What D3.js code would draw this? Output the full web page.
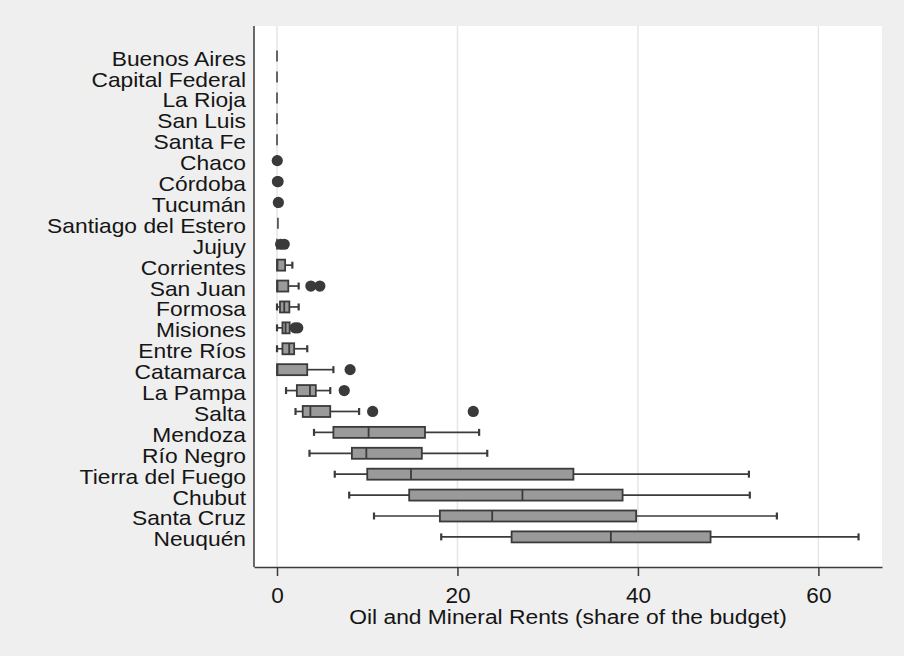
<!DOCTYPE html>
<html>
<head>
<meta charset="utf-8">
<script src="https://cdn.jsdelivr.net/npm/d3@7"></script>
<style>
  body { margin: 0; background: #efefef; }
  svg { display: block; font-family: "Liberation Sans", Arial, sans-serif; }
</style>
</head>
<body>
<svg></svg>
<script>
const provinces = ["Buenos Aires", "Capital Federal", "La Rioja", "San Luis", "Santa Fe", "Chaco",
  "Córdoba", "Tucumán", "Santiago del Estero", "Jujuy", "Corrientes", "San Juan", "Formosa",
  "Misiones", "Entre Ríos", "Catamarca", "La Pampa", "Salta", "Mendoza", "Río Negro",
  "Tierra del Fuego", "Chubut", "Santa Cruz", "Neuquén"]

// box plot summaries (lower whisker, quartiles, upper whisker)
const lowWhisker = [0, 0, 0, 0, 0, 0, 0, 0, 0.1, 0, 0, 0, 0, 0, 0, 0, 1.0, 2.05, 4.1, 3.6, 6.4, 8.0, 10.75, 18.2]
const q1 =         [0, 0, 0, 0, 0, 0, 0, 0, 0.1, 0, 0, 0, 0.33, 0.6, 0.6, 0, 2.2, 2.85, 6.25, 8.3, 10.0, 14.65, 18.05, 26.0]
const medians =    [0, 0, 0, 0, 0, 0, 0, 0, 0.1, 0, 0.05, 0.05, 0.8, 0.95, 1.35, 0.05, 3.65, 3.7, 10.15, 9.9, 14.85, 27.2, 23.85, 37.0]
const q3 =         [0, 0, 0, 0, 0, 0, 0, 0, 0.1, 0, 0.9, 1.25, 1.37, 1.4, 1.9, 3.35, 4.3, 5.9, 16.4, 16.05, 32.85, 38.3, 39.8, 48.05]
const highWhisker =[0, 0, 0, 0, 0, 0, 0, 0, 0.1, 0, 1.7, 2.4, 2.4, 1.4, 3.35, 6.25, 5.9, 9.1, 22.4, 23.3, 52.3, 52.4, 55.4, 64.45]
const outliers = [[], [], [], [], [], [0.03], [0.05, 0.12], [0.15], [], [0.4, 0.8], [], [3.75, 4.75],
  [], [2.0, 2.3], [], [8.1], [7.45], [10.6, 21.75], [], [], [], [], [], []]

const xTicks = [0, 20, 40, 60]
const xTitle = "Oil and Mineral Rents (share of the budget)"

const width = 904, height = 656
const plot = {left: 254, right: 882, top: 26, bottom: 567}

const svg = d3.select("svg")
  .attr("width", width)
  .attr("height", height)

svg.append("rect")
  .attr("width", width)
  .attr("height", height)
  .attr("fill", "#efefef")

svg.append("rect")
  .attr("x", plot.left)
  .attr("y", plot.top)
  .attr("width", plot.right - plot.left)
  .attr("height", plot.bottom - plot.top)
  .attr("fill", "#fff")

const x = d3.scaleLinear().domain([-2.55, 67.05]).range([plot.left, plot.right])
const y = d3.scalePoint().domain(provinces).range([plot.top, plot.bottom]).padding(1.44)

// grid
svg.selectAll("line.grid")
  .data(xTicks)
  .join("line")
  .attr("class", "grid")
  .attr("x1", d => x(d)).attr("x2", d => x(d))
  .attr("y1", plot.top).attr("y2", plot.bottom)
  .attr("stroke", "#e6e6e6")
  .attr("stroke-width", 1.5)

const rows = provinces.map((p, i) => ({
  name: p, lo: lowWhisker[i], q1: q1[i], med: medians[i], q3: q3[i], hi: highWhisker[i], out: outliers[i]
}))

const boxH = 11, capH = 7
const dark = "#3b3b3b"

const g = svg.selectAll("g.row")
  .data(rows)
  .join("g")
  .attr("class", "row")
  .attr("transform", d => `translate(0,${y(d.name)})`)

// whiskers
g.filter(d => d.lo < d.q1).append("line")
  .attr("x1", d => x(d.lo)).attr("x2", d => x(d.q1))
  .attr("stroke", dark).attr("stroke-width", 1.7)
g.filter(d => d.hi > d.q3).append("line")
  .attr("x1", d => x(d.q3)).attr("x2", d => x(d.hi))
  .attr("stroke", dark).attr("stroke-width", 1.7)
g.filter(d => d.lo < d.q1).append("line")
  .attr("x1", d => x(d.lo)).attr("x2", d => x(d.lo))
  .attr("y1", -capH / 2).attr("y2", capH / 2)
  .attr("stroke", dark).attr("stroke-width", 2.2)
g.filter(d => d.hi > d.q3).append("line")
  .attr("x1", d => x(d.hi)).attr("x2", d => x(d.hi))
  .attr("y1", -capH / 2).attr("y2", capH / 2)
  .attr("stroke", dark).attr("stroke-width", 2.2)

// boxes
g.filter(d => d.q3 > d.q1).append("rect")
  .attr("x", d => x(d.q1))
  .attr("y", -boxH / 2)
  .attr("width", d => x(d.q3) - x(d.q1))
  .attr("height", boxH)
  .attr("fill", "#9a9a9a")
  .attr("stroke", dark)
  .attr("stroke-width", 1.8)

// median
g.append("line")
  .attr("x1", d => x(d.med)).attr("x2", d => x(d.med))
  .attr("y1", -boxH / 2).attr("y2", boxH / 2)
  .attr("stroke", d => d.q3 > d.q1 ? dark : "#555")
  .attr("stroke-width", 1.8)

// outside values
g.selectAll("circle")
  .data(d => d.out)
  .join("circle")
  .attr("cx", d => x(d))
  .attr("r", 5.6)
  .attr("fill", "#3a3a3a")

// axes
svg.append("line")
  .attr("x1", plot.left).attr("x2", plot.left)
  .attr("y1", plot.top).attr("y2", plot.bottom)
  .attr("stroke", dark).attr("stroke-width", 1.5)

const xAxis = svg.append("g")
  .attr("transform", `translate(0,${plot.bottom})`)
  .call(d3.axisBottom(x).tickValues(xTicks).tickSize(9).tickSizeOuter(0).tickPadding(0))

xAxis.select(".domain").attr("stroke", dark).attr("stroke-width", 1.5)
xAxis.selectAll(".tick line").attr("stroke", dark).attr("stroke-width", 1.5)
xAxis.selectAll(".tick text").remove()
xAxis.selectAll(".tick")
  .append("text")
  .attr("transform", "translate(0,35.5) scale(1.05,1)")
  .attr("text-anchor", "middle")
  .attr("fill", "#151515")
  .attr("font-size", 21.5)
  .text(d => d)

// category labels
svg.selectAll("text.prov")
  .data(provinces)
  .join("text")
  .attr("class", "prov")
  .attr("transform", d => `translate(${plot.left - 8},${y(d) + 9.5}) scale(1.14,1)`)
  .attr("text-anchor", "end")
  .attr("font-size", 20)
  .attr("fill", "#151515")
  .text(d => d)

svg.append("text")
  .attr("transform", `translate(${(plot.left + plot.right) / 2},624.3) scale(1.087,1)`)
  .attr("text-anchor", "middle")
  .attr("font-size", 21)
  .attr("fill", "#151515")
  .text(xTitle)
</script>
</body>
</html>
